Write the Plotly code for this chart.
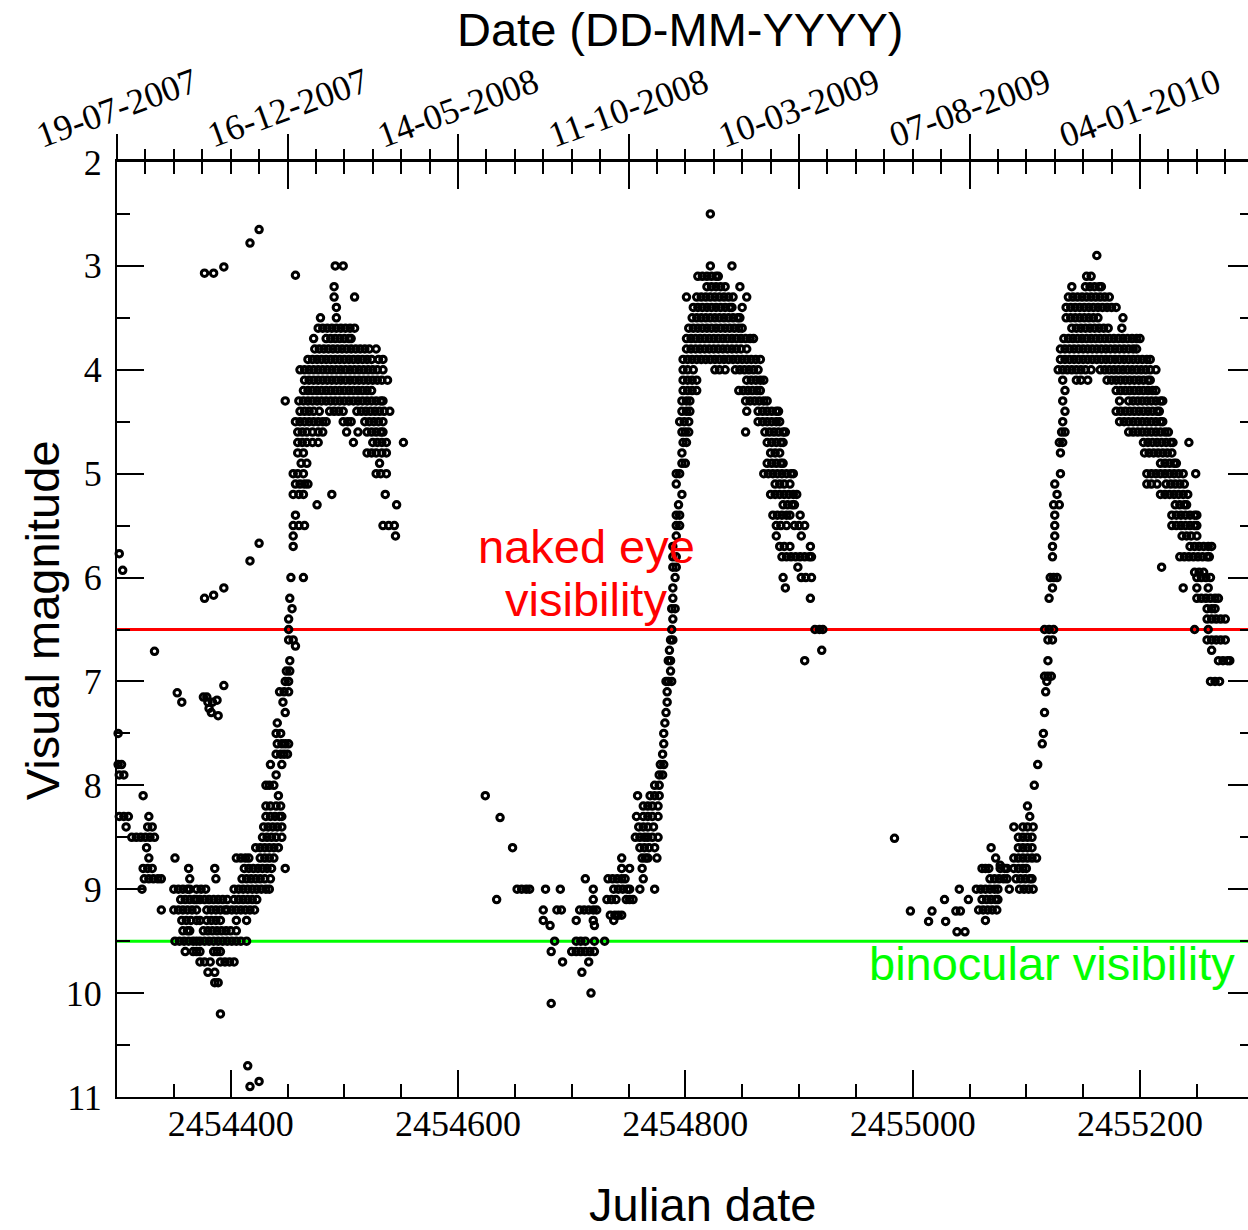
import plotly.graph_objects as go

# Julian-date origin for the day offsets listed below
JD0 = 2454300

# ---- observations: rows of (visual magnitude, [days after JD0]) ----
cycle1 = [
    (5.77, [2]), (5.93, [5]), (6.71, [33]),
    (7.5, [1]), (7.8, [1, 4]), (7.9, [2, 6]), (8.1, [23]),
    (8.3, [2, 6, 10, 28]), (8.4, [8, 27, 31]),
    (8.5, [13, 17, 21, 25, 29, 33]), (8.6, [26]), (8.7, [28, 51]),
    (8.8, [23, 27, 31, 63, 86]), (8.9, [24, 28, 32, 36, 39, 64, 87]),
    (9.0, [22, 50, 54, 58, 62, 64, 70, 74, 78, 103, 107, 111, 115, 119, 123, 127, 131, 134]),
    (9.1, [56, 60, 64, 68, 70, 73, 77, 81, 85, 89, 93, 97, 103, 107, 111, 115, 119, 123]),
    (9.2, [39, 50, 54, 58, 62, 66, 70, 79, 83, 87, 91, 95, 97, 101, 105, 109, 113, 117, 121]),
    (9.3, [57, 61, 65, 70, 73, 79, 83, 87, 91, 105, 114]),
    (9.4, [58, 62, 64, 76, 80, 84, 88, 92, 96, 100, 105]),
    (9.5, [51, 55, 59, 63, 67, 70, 73, 77, 81, 85, 89, 93, 97, 101, 105, 109, 114]),
    (9.6, [60, 67, 70, 73, 85, 88, 91]),
    (9.7, [73, 77, 82, 91, 95, 99, 103]),
    (9.8, [80, 86]), (9.9, [86, 89]), (10.2, [91]),
    (10.7, [115]), (10.85, [125]), (10.9, [117]),
    (7.11, [53]), (7.2, [57, 80, 84]), (7.15, [76, 79]), (7.18, [88]),
    (7.26, [81]), (7.3, [83]), (7.33, [89]), (7.04, [94]),
    (3.07, [77, 85]), (3.01, [94]), (2.78, [117]), (2.65, [125]),
    (6.1, [94]), (6.17, [85]), (6.2, [77]), (5.67, [125]), (5.84, [117]),
    # rise
    (8.8, [112, 116, 120, 124, 128, 132, 136, 148]),
    (8.9, [110, 114, 118, 122, 126, 130, 135]),
    (8.7, [105, 109, 113, 116, 126, 130, 134, 138]),
    (8.6, [122, 126, 130, 134, 138, 142]),
    (8.5, [128, 132, 136, 140, 145]),
    (8.4, [129, 133, 137, 141, 145]),
    (8.3, [131, 135, 139, 143, 145]),
    (8.2, [131, 135, 140, 144]), (8.1, [142]), (8.0, [131, 134, 138]),
    (7.9, [140]), (7.8, [135, 145]), (7.7, [140, 144, 147, 150]),
    (7.6, [141, 145, 148, 151]), (7.5, [140, 144]), (7.4, [141]),
    (7.3, [148]), (7.2, [146]), (7.1, [143, 147, 151]), (7.0, [148, 151]),
    (6.9, [149, 152]), (6.8, [152]), (6.66, [157]), (6.6, [151, 155]),
    (6.5, [151]), (6.4, [151]), (6.3, [154]), (6.2, [152]), (6.0, [153, 164]),
    (5.7, [155]), (5.6, [155, 245]), (5.5, [155, 160, 165, 234, 239, 244]),
    (5.4, [157]), (5.3, [176, 246]), (5.2, [155, 160, 164, 189, 236]),
    (5.1, [157, 161, 165, 168]), (5.0, [155, 159, 164, 228, 232, 237]),
    (4.9, [162, 167, 231]), (4.8, [159, 164, 220, 224, 228, 233, 237]),
    # maximum
    (4.7, [159, 163, 167, 172, 177, 208, 225, 229, 233, 237, 252]),
    (4.6, [159, 163, 167, 172, 177, 181, 202, 212, 220, 224, 228, 232, 234]),
    (4.5, [157, 161, 165, 169, 173, 177, 181, 184, 199, 203, 206, 218, 222, 226, 230, 234]),
    (4.4, [161, 165, 169, 173, 178, 187, 191, 195, 199, 211, 215, 219, 223, 227, 231, 235, 240]),
    (4.3, [148, 160, 164, 168, 172, 176, 180, 184, 188, 192, 196, 200, 204, 208, 212, 216, 220, 224, 228, 232, 234]),
    (4.2, [164, 168, 172, 176, 180, 184, 188, 192, 196, 200, 204, 208, 212, 216, 220, 224]),
    (4.1, [165, 169, 173, 177, 181, 185, 189, 193, 197, 201, 205, 209, 213, 217, 221, 225, 229, 233, 238]),
    (4.0, [161, 165, 169, 173, 177, 181, 185, 189, 193, 197, 201, 205, 209, 213, 217, 221, 225, 229, 234]),
    (3.9, [168, 172, 176, 180, 184, 188, 192, 196, 200, 204, 208, 212, 216, 220, 224, 230, 234]),
    (3.8, [174, 178, 182, 186, 190, 194, 198, 202, 206, 210, 214, 218, 222, 228]),
    (3.7, [173, 184, 188, 192, 196, 200, 204, 206]),
    (3.6, [177, 181, 185, 189, 193, 197, 201, 205, 209]),
    (3.5, [179, 193]), (3.4, [193]), (3.3, [191, 209]), (3.2, [191]),
    (3.09, [157]), (3.0, [192, 199]),
]

cycle2 = [
    (8.1, [324]), (8.31, [337]), (8.6, [348]), (9.1, [334]),
    (9.0, [352, 356, 360, 363, 377, 390, 419, 437, 441, 445, 449, 451, 460, 473]),
    (8.9, [412, 432, 436, 440, 444, 447, 463]),
    (8.8, [444, 451, 462]), (8.7, [444, 462, 465, 467, 475]),
    (8.6, [460, 464, 468, 473]), (8.5, [456, 460, 464, 467, 471, 476]),
    (8.4, [459, 463, 467, 472]), (8.3, [457, 463, 467, 471, 476]),
    (8.2, [463, 467, 471, 476]), (8.1, [458, 469, 473, 477]),
    (8.0, [473, 477]), (7.9, [477, 480]), (7.8, [478, 481]), (7.7, [480]),
    (7.6, [481]), (7.5, [481]), (7.4, [482]), (7.3, [483]), (7.2, [484]),
    (7.1, [484]), (7.0, [483, 485, 488]),
    (9.1, [419, 431, 435, 439, 448, 451, 454]),
    (9.2, [375, 387, 391, 407, 411, 415, 419, 422]),
    (9.25, [434, 438, 441, 444]), (9.3, [375, 404, 419, 437]), (9.35, [381, 420]),
    (9.5, [385, 404, 408, 412, 420, 429]),
    (9.6, [382, 400, 404, 408, 412, 416, 420]),
    (9.7, [392, 415]), (9.8, [409]), (10.0, [417]), (10.1, [382]),
    # maximum
    (2.5, [522]), (3.0, [522, 541]),
    (3.1, [511, 515, 519, 523, 527, 529]),
    (3.2, [519, 523, 527, 531, 535, 548]),
    (3.3, [501, 510, 514, 518, 522, 526, 530, 534, 538, 542, 554]),
    (3.4, [507, 511, 515, 519, 523, 527, 531, 535, 539, 541, 550]),
    (3.5, [506, 510, 514, 518, 522, 526, 530, 534, 538, 542, 546, 548]),
    (3.6, [503, 507, 511, 515, 519, 523, 527, 531, 535, 539, 543, 547, 550]),
    (3.7, [501, 505, 509, 513, 517, 521, 525, 529, 533, 537, 541, 545, 549, 553, 557, 560]),
    (3.8, [501, 505, 509, 513, 517, 521, 525, 529, 533, 537, 541, 545, 549, 554]),
    (3.9, [498, 502, 506, 510, 514, 518, 522, 526, 530, 534, 538, 542, 546, 550, 554, 558, 562, 566]),
    (4.0, [498, 502, 507, 526, 530, 535, 544, 548, 552, 556, 560, 564]),
    (4.1, [498, 502, 506, 510, 554, 558, 562, 566, 569]),
    (4.2, [498, 502, 506, 510, 547, 551, 555, 559, 563, 566]),
    (4.3, [497, 501, 504, 553, 557, 561, 565, 569, 572]),
    (4.4, [497, 501, 504, 554, 564, 568, 572, 576, 580, 582]),
    (4.5, [495, 499, 503, 564, 568, 572, 576, 580, 583]),
    (4.6, [497, 500, 503, 553, 570, 574, 578, 582, 586, 588]),
    (4.7, [498, 501, 572, 576, 580, 584, 586]),
    (4.8, [497, 575, 579, 583]),
    (4.9, [497, 500, 572, 576, 580, 584, 586]),
    (5.0, [492, 495, 569, 573, 577, 581, 585, 589, 593, 595]),
    (5.1, [492, 579, 583, 587, 592]),
    (5.2, [497, 575, 579, 583, 587, 591, 595, 598]),
    (5.3, [494, 586, 590, 594, 596]),
    (5.4, [492, 495, 577, 581, 585, 589, 592, 601]),
    (5.5, [492, 495, 580, 584, 589, 596, 600, 605]),
    (5.6, [492, 580, 602]), (5.7, [489, 583, 587, 592, 610]),
    (5.8, [489, 492, 585, 589, 593, 597, 601, 605, 609, 611]),
    (5.9, [489, 492, 599]), (6.0, [491, 586, 602, 606, 611]),
    (6.1, [489, 588]), (6.2, [489, 610]), (6.3, [488, 491]), (6.4, [489]),
    (6.5, [488, 614, 618, 621]), (6.6, [487, 489]), (6.7, [486, 620]),
    (6.8, [485, 487, 605]), (6.9, [487]),
]

cycle3 = [
    (8.51, [684]), (9.21, [698, 717, 738, 742]), (9.31, [714, 729]),
    (9.1, [728, 749]), (9.41, [739, 746]), (9.0, [741]),
    (9.0, [756, 760, 764, 768, 772, 775, 785, 794, 798, 802, 806]),
    (9.1, [761, 765, 769, 773, 775]), (9.2, [758, 762, 766, 770, 774]),
    (9.3, [764]),
    (8.8, [761, 764, 767, 777, 781, 783, 789, 793, 797, 800]),
    (8.6, [769, 793, 797, 801, 805]),
    (8.7, [773, 789, 793, 797, 801, 805, 809]), (8.77, [777]),
    (8.9, [768, 772, 776, 780, 783, 791, 795, 799, 803, 805]),
    (8.5, [793, 797, 801, 805]), (8.4, [789, 797, 801, 806]),
    (8.3, [803]), (8.2, [801]), (8.0, [807]), (7.8, [810]), (7.6, [814]),
    (7.5, [815]), (7.3, [816]), (7.1, [817]),
    (7.0, [818, 962, 966, 970]), (6.95, [816, 819, 822]),
    (6.8, [819, 969, 973, 977, 979]), (6.7, [963]),
    (6.6, [819, 823, 959, 963, 967, 971, 975]),
    (6.5, [816, 820, 824, 948, 960]),
    (6.4, [959, 963, 967, 971, 975]), (6.3, [959, 963, 966]),
    (6.2, [820, 950, 954, 958, 962, 966, 969]),
    (6.1, [823, 938, 950, 960]),
    (6.0, [821, 824, 827, 950, 954, 958, 962]), (5.95, [948, 952, 956]),
    (5.9, [919]),
    (5.8, [823, 935, 939, 943, 947, 951, 955, 959, 961]),
    (5.7, [823, 944, 948, 952, 956, 960, 963]),
    (5.6, [825, 937, 941, 945, 950]),
    (5.5, [825, 928, 932, 936, 940, 944, 948, 950]),
    (5.4, [825, 928, 932, 936, 940, 944, 948, 950]),
    (5.3, [824, 829, 931, 935, 939, 941]),
    (5.2, [827, 918, 922, 926, 930, 934, 938, 942]),
    (5.1, [825, 906, 910, 915, 923, 927, 931, 935, 939]),
    (5.0, [830, 906, 910, 914, 918, 922, 926, 930, 934, 938, 949]),
    (4.9, [918, 922, 926, 930, 932]),
    (4.8, [830, 904, 908, 912, 916, 920, 924, 928]),
    (4.7, [829, 832, 903, 907, 911, 915, 919, 923, 927, 929, 943]),
    (4.6, [831, 834, 890, 894, 898, 902, 906, 910, 914, 918, 922, 925]),
    (4.5, [832, 882, 886, 890, 894, 898, 902, 906, 910, 914, 918, 920]),
    (4.4, [834, 879, 883, 887, 891, 895, 899, 903, 907, 911, 915, 917]),
    (4.3, [832, 882, 890, 894, 898, 902, 906, 910, 914, 918, 920]),
    (4.2, [834, 879, 883, 887, 891, 895, 899, 903, 907, 911, 914]),
    (4.1, [832, 844, 848, 854, 871, 875, 879, 883, 887, 891, 895, 899, 903, 907, 909]),
    (4.0, [828, 832, 836, 840, 844, 848, 852, 857, 865, 869, 873, 877, 881, 885, 889, 893, 897, 901, 905, 909, 914]),
    (3.9, [830, 834, 838, 842, 846, 850, 854, 858, 862, 866, 870, 874, 878, 882, 886, 890, 894, 898, 902, 906, 909]),
    (3.8, [830, 834, 838, 842, 846, 850, 854, 858, 862, 866, 870, 874, 878, 882, 886, 890, 894, 897]),
    (3.7, [833, 837, 841, 845, 849, 853, 857, 861, 865, 869, 873, 877, 881, 885, 889, 893, 897, 900]),
    (3.6, [840, 844, 848, 852, 856, 860, 864, 868, 872, 884]),
    (3.5, [835, 839, 843, 847, 851, 855, 859, 863, 885]),
    (3.4, [835, 839, 843, 847, 851, 855, 859, 863, 867, 871, 875, 879]),
    (3.3, [837, 841, 845, 849, 853, 857, 861, 865, 869, 873]),
    (3.2, [840, 852, 856, 860, 864, 866]),
    (3.1, [853, 857]), (2.9, [862]),
]

# visibility limits (magnitudes)
naked_eye_limit = 6.5
binocular_limit = 9.5

# top axis calendar labels
date_tick_jd = [2454300, 2454450, 2454600, 2454750, 2454900, 2455050, 2455200]
date_labels = ["19-07-2007", "16-12-2007", "14-05-2008", "11-10-2008",
               "10-03-2009", "07-08-2009", "04-01-2010"]

x_range = [2454300, 2455295]
y_range = [11, 2]

# ---------------------------------------------------------------------
xs, ys = [], []
for rows in (cycle1, cycle2, cycle3):
    for mag, days in rows:
        for d in days:
            xs.append(JD0 + d)
            ys.append(mag)

SERIF = "Liberation Serif"
SANS = "Liberation Sans"

fig = go.Figure()
fig.add_trace(go.Scatter(
    x=xs, y=ys, mode="markers", cliponaxis=False, showlegend=False,
    marker=dict(symbol="circle-open", size=6.5, color="black",
                line=dict(width=3, color="black")),
))
# dummy traces so the overlay axes are drawn
fig.add_trace(go.Scatter(x=[None], y=[None], xaxis="x2", yaxis="y", showlegend=False))
fig.add_trace(go.Scatter(x=[None], y=[None], xaxis="x3", yaxis="y", showlegend=False))
fig.add_trace(go.Scatter(x=[None], y=[None], xaxis="x", yaxis="y2", showlegend=False))

fig.add_shape(type="line", xref="paper", x0=0, x1=1, yref="y",
              y0=naked_eye_limit, y1=naked_eye_limit,
              line=dict(color="#ff0000", width=3), layer="below")
fig.add_shape(type="line", xref="paper", x0=0, x1=1, yref="y",
              y0=binocular_limit, y1=binocular_limit,
              line=dict(color="#00ff00", width=3), layer="below")

tick_common = dict(tickcolor="black", tickwidth=1.5, showgrid=False, zeroline=False)

fig.update_layout(
    width=1248, height=1230,
    margin=dict(l=117, r=0, t=162, b=133, pad=0),
    paper_bgcolor="white", plot_bgcolor="white",
    showlegend=False,
    xaxis=dict(range=x_range, tickmode="linear", tick0=2454400, dtick=200,
               tickformat="d",
               ticks="inside", ticklen=27, showline=True, linecolor="black",
               linewidth=2, tickfont=dict(family=SERIF, size=36, color="black"),
               minor=dict(dtick=50, tick0=2454400, ticks="inside", ticklen=13,
                          tickcolor="black", tickwidth=1.5, showgrid=False),
               ticklabelstandoff=-6, **tick_common),
    yaxis=dict(range=y_range, tickmode="linear", tick0=2, dtick=1,
               ticks="inside", ticklen=27, showline=True, linecolor="black",
               linewidth=2, tickfont=dict(family=SERIF, size=36, color="black"),
               minor=dict(dtick=0.5, tick0=2, ticks="inside", ticklen=13,
                          tickcolor="black", tickwidth=1.5, showgrid=False),
               ticklabelstandoff=6, **tick_common),
    xaxis2=dict(overlaying="x", side="top", anchor="y", range=x_range,
                tickmode="linear", tick0=2454300, dtick=150,
                ticks="inside", ticklen=27, showticklabels=False,
                showline=True, linecolor="black", linewidth=3,
                minor=dict(dtick=25, tick0=2454300, ticks="inside", ticklen=12,
                           tickcolor="black", tickwidth=1.5, showgrid=False),
                **tick_common),
    xaxis3=dict(overlaying="x", side="top", anchor="y", range=x_range,
                tickmode="linear", tick0=2454300, dtick=150,
                ticks="outside", ticklen=27, showticklabels=False,
                showline=False,
                minor=dict(dtick=25, tick0=2454300, ticks="outside", ticklen=12,
                           tickcolor="black", tickwidth=1.5, showgrid=False),
                **tick_common),
    yaxis2=dict(overlaying="y", side="right", anchor="x", range=y_range,
                tickmode="linear", tick0=2, dtick=1, ticks="inside", ticklen=20,
                showticklabels=False, showline=False,
                minor=dict(dtick=0.5, tick0=2, ticks="inside", ticklen=8,
                           tickcolor="black", tickwidth=1.5, showgrid=False),
                **tick_common),
)

ann = []
for jd, lab in zip(date_tick_jd, date_labels):
    ann.append(dict(x=jd, xref="x", y=1.0575, yref="paper", text=lab,
                    textangle=-20, showarrow=False, xanchor="center", yanchor="middle",
                    font=dict(family=SERIF, size=36, color="black")))
ann += [
    dict(x=-0.0663, y=0.510, xref="paper", yref="paper", text="Visual magnitude",
         textangle=-90, showarrow=False, xanchor="center", yanchor="middle",
         font=dict(family=SANS, size=47, color="black")),
    dict(x=0.518, y=-0.1155, xref="paper", yref="paper", text="Julian date",
         showarrow=False, xanchor="center", yanchor="middle",
         font=dict(family=SANS, size=47, color="black")),
    dict(x=0.4978, y=1.1412, xref="paper", yref="paper", text="Date (DD-MM-YYYY)",
         showarrow=False, xanchor="center", yanchor="middle",
         font=dict(family=SANS, size=47, color="black")),
    dict(x=0.4147, y=0.5893, xref="paper", yref="paper", text="naked eye",
         showarrow=False, xanchor="center", yanchor="middle",
         font=dict(family=SANS, size=47, color="#ff0000")),
    dict(x=0.4147, y=0.5316, xref="paper", yref="paper", text="visibility",
         showarrow=False, xanchor="center", yanchor="middle",
         font=dict(family=SANS, size=47, color="#ff0000")),
    dict(x=0.9903, y=0.1433, xref="paper", yref="paper", text="binocular visibility",
         showarrow=False, xanchor="right", yanchor="middle",
         font=dict(family=SANS, size=47, color="#00ff00")),
]
fig.update_layout(annotations=ann)

fig.write_html("out.html")
